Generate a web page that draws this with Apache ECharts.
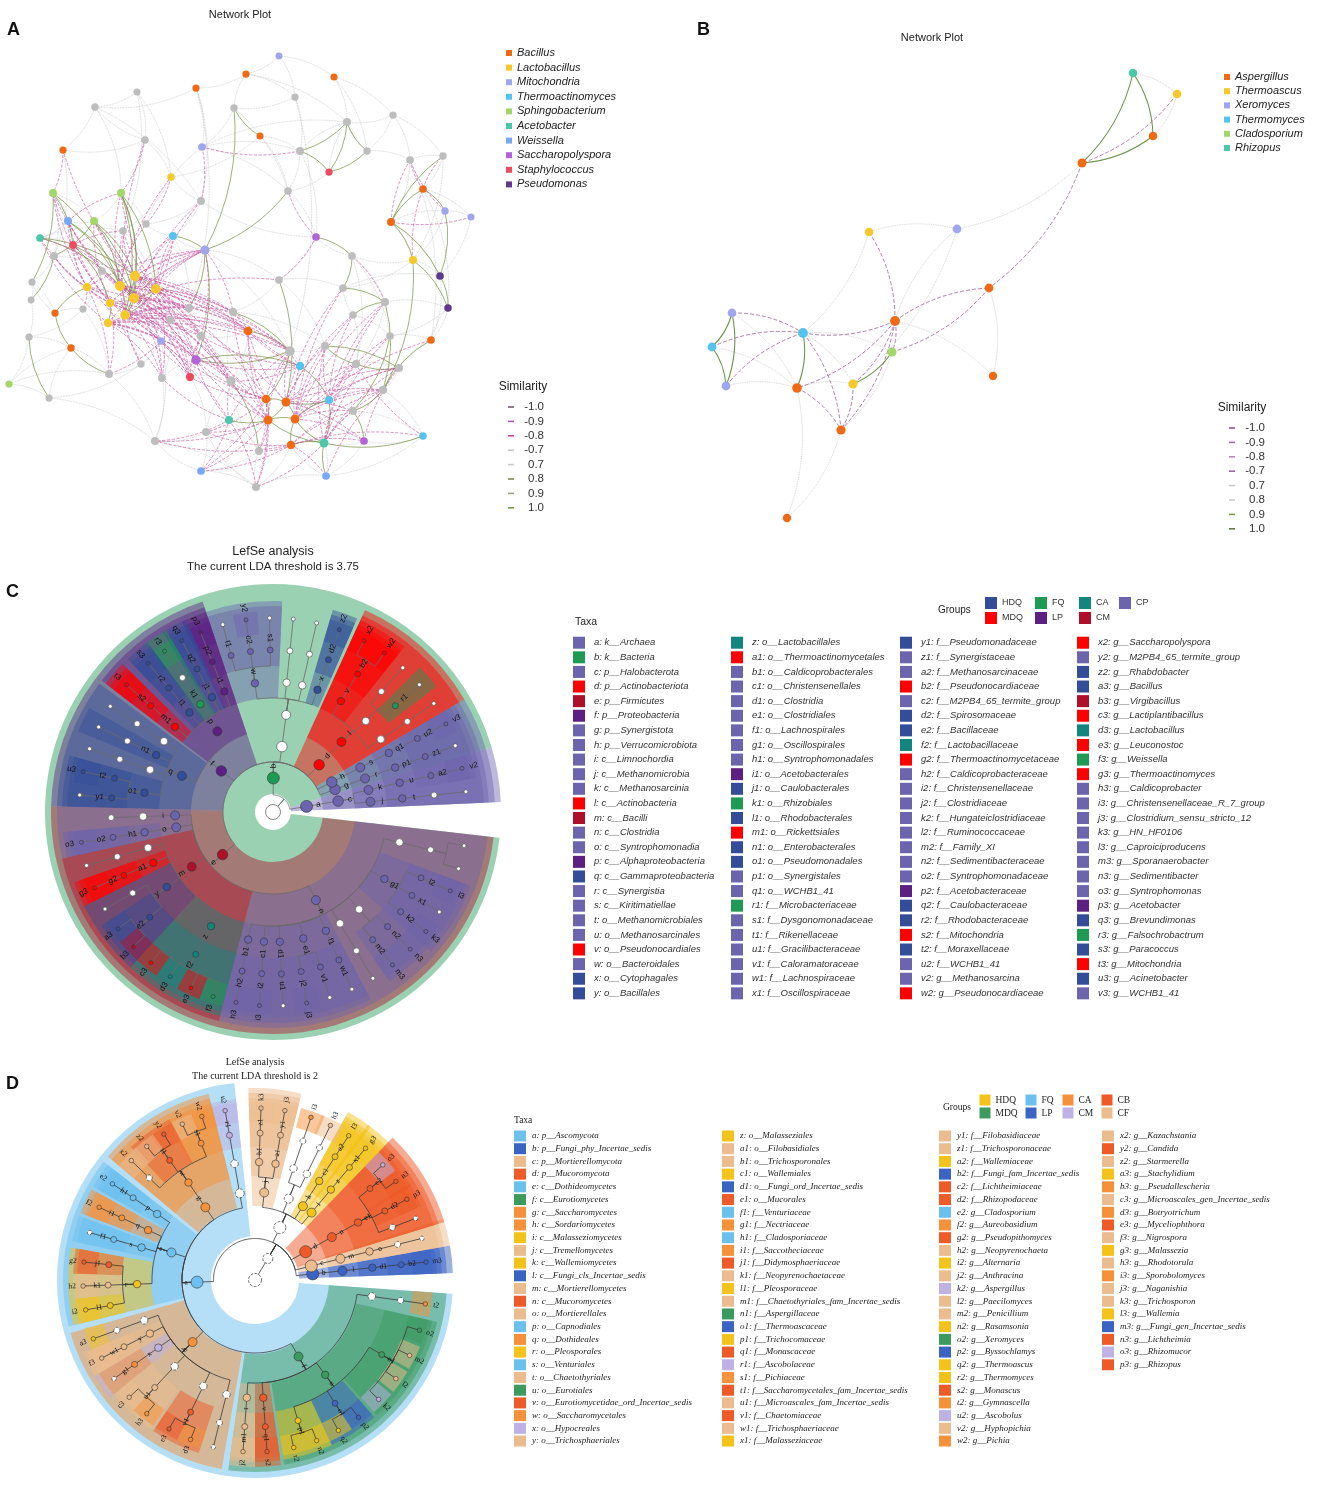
<!DOCTYPE html>
<html>
<head>
<meta charset="utf-8">
<title>Network plots and LEfSe cladograms</title>
<script src="https://cdn.jsdelivr.net/npm/echarts/dist/echarts.min.js"></script>
<style>
  html, body { margin: 0; padding: 0; background: #fff; }
  #chart { width: 1325px; height: 1497px; }
</style>
</head>
<body>
<div id="chart"></div>
<script>
// ---------- Panel A: bacterial network ----------
const aGenera = ['Bacillus', 'Lactobacillus', 'Mitochondria', 'Thermoactinomyces', 'Sphingobacterium',
  'Acetobacter', 'Weissella', 'Saccharopolyspora', 'Staphylococcus', 'Pseudomonas'];
// x, y (layout), genus index (10 = other)
const aNodes = [
  [246, 74, 0], [196, 88, 0], [334, 77, 0], [260, 136, 0], [63, 150, 0], [423, 189, 0], [391, 222, 0],
  [55, 313, 0], [71, 348, 0], [248, 331, 0], [431, 340, 0], [266, 399, 0], [286, 402, 0], [268, 420, 0],
  [295, 419, 0], [291, 445, 0],
  [171, 177, 1], [413, 260, 1], [135, 276, 1], [120, 286, 1], [87, 287, 1], [134, 298, 1], [156, 289, 1],
  [110, 303, 1], [125, 315, 1], [108, 323, 1],
  [279, 56, 2], [202, 147, 2], [205, 250, 2], [445, 211, 2], [471, 217, 2], [161, 341, 2],
  [173, 236, 3], [300, 366, 3], [329, 400, 3], [423, 436, 3],
  [53, 193, 4], [121, 193, 4], [94, 221, 4], [9, 384, 4],
  [40, 238, 5], [229, 420, 5], [324, 443, 5],
  [68, 221, 6], [201, 471, 6], [326, 476, 6],
  [316, 237, 7], [196, 360, 7], [364, 441, 7],
  [329, 172, 8], [73, 245, 8], [190, 377, 8],
  [440, 276, 9], [448, 308, 9],
  [137, 92, 10], [95, 107, 10], [295, 97, 10], [234, 108, 10], [393, 115, 10], [347, 122, 10], [145, 140, 10],
  [300, 151, 10], [367, 151, 10], [410, 160, 10], [443, 156, 10], [288, 191, 10], [201, 201, 10], [123, 231, 10],
  [146, 224, 10], [54, 256, 10], [352, 256, 10], [102, 271, 10], [32, 282, 10], [279, 280, 10], [343, 288, 10],
  [31, 300, 10], [83, 309, 10], [385, 302, 10], [189, 308, 10], [233, 312, 10], [353, 315, 10], [170, 320, 10],
  [29, 337, 10], [201, 336, 10], [390, 336, 10], [325, 346, 10], [290, 351, 10], [141, 364, 10], [356, 364, 10],
  [109, 374, 10], [399, 368, 10], [162, 378, 10], [231, 381, 10], [383, 390, 10], [353, 411, 10], [49, 398, 10],
  [206, 432, 10], [155, 441, 10], [259, 451, 10], [256, 487, 10]
];
const aPosLinks = [[59, 61], [59, 49], [61, 49], [62, 49], [62, 59], [6, 64], [6, 5], [29, 52], [5, 29], [3, 57],
  [57, 28], [28, 78], [36, 50], [38, 69], [38, 19], [38, 21], [36, 72], [37, 18], [21, 18], [19, 24], [22, 24],
  [18, 22], [23, 25], [69, 75], [7, 20], [8, 7], [95, 82], [89, 8], [70, 74], [74, 77], [77, 93], [93, 10],
  [88, 85], [85, 90], [86, 11], [12, 14], [11, 13], [13, 41], [14, 34], [15, 42], [34, 42], [33, 34], [84, 94],
  [80, 77], [79, 86], [17, 93], [6, 17], [52, 53], [94, 48], [47, 33], [9, 86], [92, 98], [73, 12], [65, 28],
  [37, 21], [43, 21], [40, 19], [50, 23], [18, 24], [21, 24], [22, 21], [19, 21], [38, 18], [43, 19], [37, 22],
  [50, 21], [40, 18], [11, 12], [13, 14], [12, 13], [15, 14], [42, 14], [42, 13], [34, 12], [45, 42], [35, 42],
  [28, 47], [32, 28], [46, 70], [90, 88], [93, 94], [6, 52], [17, 53], [36, 19], [37, 24], [86, 47]];
const aNegLinks = [[18, 28], [18, 83], [18, 78], [18, 47], [19, 79], [19, 9], [19, 51], [20, 71], [20, 76],
  [21, 28], [21, 47], [21, 91], [22, 28], [22, 79], [22, 86], [23, 81], [23, 89], [24, 47], [24, 83], [24, 51],
  [25, 81], [25, 91], [25, 31], [19, 43], [20, 50], [21, 36], [18, 4], [23, 40], [24, 67], [22, 66], [19, 16],
  [18, 32], [21, 78], [25, 92], [24, 9], [20, 69], [23, 43], [22, 92], [18, 86], [19, 47], [21, 73], [24, 79],
  [22, 9], [11, 92], [11, 47], [11, 44], [12, 85], [12, 88], [12, 90], [13, 96], [13, 92], [13, 44], [14, 93],
  [14, 80], [14, 88], [15, 96], [15, 98], [15, 44], [41, 47], [41, 86], [42, 90], [42, 88], [34, 77], [34, 90],
  [33, 79], [33, 9], [11, 51], [12, 74], [13, 86], [14, 10], [15, 48], [42, 93], [41, 97], [11, 31], [12, 9],
  [34, 84], [33, 47], [13, 83], [14, 94], [45, 93], [48, 90], [35, 88], [6, 63], [5, 64], [5, 63], [29, 63],
  [30, 6], [17, 5], [46, 65], [27, 66], [4, 36], [60, 37], [50, 67], [40, 71], [43, 37], [16, 68], [32, 22],
  [28, 83], [28, 79], [47, 83], [51, 83], [31, 89], [87, 24],
  [18, 91], [19, 81], [20, 87], [21, 83], [22, 83], [23, 78], [24, 86], [25, 47], [19, 92], [20, 31], [23, 92],
  [24, 91], [25, 9], [18, 79], [21, 9], [22, 47], [23, 51], [20, 89], [19, 71], [21, 86], [22, 51], [25, 83],
  [18, 92], [24, 78], [20, 81], [21, 92], [18, 38], [19, 37], [20, 36], [22, 37], [23, 38], [24, 50], [25, 40],
  [18, 50], [19, 68], [21, 66], [22, 67], [24, 60], [23, 36], [21, 43], [18, 9], [19, 83], [22, 78], [25, 86],
  [24, 92], [20, 43], [18, 67], [21, 71], [22, 32], [23, 69], [19, 86], [25, 78], [24, 28], [19, 28], [20, 28],
  [23, 28], [25, 28], [21, 32], [23, 47], [20, 47], [22, 91], [18, 81], [19, 31], [18, 51], [21, 51],
  [11, 86], [12, 86], [13, 79], [14, 85], [15, 94], [41, 92], [42, 85], [34, 85], [33, 86], [11, 96], [12, 93],
  [13, 98], [14, 90], [15, 97], [41, 44], [42, 94], [11, 83], [12, 80], [13, 47], [14, 77], [15, 45], [41, 91],
  [42, 77], [34, 88], [33, 92], [11, 98], [12, 94], [13, 97], [14, 74], [15, 35], [42, 84], [34, 80], [33, 83],
  [11, 9], [13, 9], [14, 33], [15, 93], [41, 99], [42, 99], [34, 93], [12, 48], [14, 48], [11, 99], [13, 99],
  [18, 11], [21, 13], [24, 41], [19, 12], [25, 51], [46, 73], [70, 77], [61, 27]];
const aWeakLinks = [[26, 2], [0, 1], [0, 59], [1, 27], [1, 78], [54, 67], [55, 4], [55, 66], [60, 4], [60, 16],
  [56, 61], [56, 86], [57, 65], [57, 27], [58, 62], [58, 63], [2, 58], [3, 65], [3, 16], [27, 61], [27, 59],
  [61, 65], [61, 46], [62, 59], [63, 64], [63, 6], [64, 5], [5, 30], [6, 17], [6, 52], [29, 30], [65, 46],
  [66, 16], [66, 68], [16, 67], [4, 69], [36, 69], [69, 72], [72, 75], [75, 82], [82, 39], [39, 95], [95, 8],
  [8, 89], [89, 97], [97, 99], [99, 98], [98, 44], [96, 44], [96, 97], [87, 95], [70, 46], [70, 77], [70, 88],
  [46, 73], [73, 79], [73, 85], [74, 52], [77, 53], [80, 84], [84, 10], [10, 53], [88, 90], [90, 93], [93, 94],
  [94, 35], [35, 48], [48, 42], [42, 45], [45, 15], [15, 99], [41, 96], [41, 98], [92, 86], [92, 79], [79, 9],
  [9, 83], [83, 78], [28, 32], [28, 86], [17, 52], [17, 70], [6, 29], [49, 59], [5, 53], [63, 10], [84, 88],
  [85, 33], [33, 12], [86, 33], [78, 81], [81, 91], [91, 47], [47, 51], [51, 92], [31, 87], [31, 47], [7, 76],
  [7, 72], [76, 89], [20, 69], [71, 19], [38, 43], [43, 40], [40, 50], [50, 69], [36, 38], [37, 68], [37, 38],
  [67, 22], [32, 68], [32, 21], [26, 0], [2, 62], [54, 60], [44, 99], [39, 89],
  [54, 55], [54, 16], [56, 57], [58, 59], [62, 63], [64, 17], [0, 56], [1, 66], [27, 65], [28, 73], [70, 84],
  [77, 88], [80, 88], [85, 86], [73, 74], [79, 85], [9, 92], [83, 92], [81, 87], [87, 89], [91, 97], [96, 92],
  [98, 92], [99, 45], [44, 97], [93, 35], [90, 10], [52, 10], [53, 84], [17, 74], [46, 66], [49, 65], [3, 61],
  [60, 55], [55, 37], [69, 71], [71, 76], [76, 82], [72, 7], [82, 8], [95, 97], [39, 8], [36, 43], [40, 67],
  [68, 27], [66, 32], [32, 78], [78, 9], [31, 97], [51, 96], [47, 92], [2, 59], [26, 56], [58, 64], [29, 17],
  [30, 52], [53, 10], [35, 45], [48, 45], [99, 96], [98, 15], [94, 88], [80, 74], [61, 59], [57, 0], [1, 55]];

// ---------- Panel B: fungal network ----------
const bGenera = ['Aspergillus', 'Thermoascus', 'Xeromyces', 'Thermomyces', 'Cladosporium', 'Rhizopus'];
const bNodes = [
  [1133, 73, 5], [1177, 94, 1], [1153, 136, 0], [1082, 163, 0], [869, 232, 1], [957, 229, 2], [989, 288, 0],
  [732, 313, 2], [803, 333, 3], [895, 321, 0], [712, 347, 3], [892, 352, 4], [993, 376, 0], [726, 386, 2],
  [797, 388, 0], [853, 384, 1], [841, 430, 0], [787, 518, 0]
];
const bPosLinks = [[0, 3], [0, 2], [2, 3], [7, 10], [7, 13], [10, 13], [8, 14], [11, 15]];
const bNegLinks = [[1, 3], [4, 9], [9, 6], [9, 8], [9, 11], [9, 14], [9, 15], [9, 16], [7, 8], [10, 8], [13, 8],
  [15, 16], [14, 16], [8, 16], [6, 11], [3, 6]];
const bWeakLinks = [[0, 1], [1, 2], [3, 5], [4, 5], [4, 8], [5, 15], [6, 12], [9, 12], [7, 14], [10, 14],
  [13, 14], [8, 15], [8, 11], [14, 15], [14, 17], [16, 17], [11, 16], [9, 5]];

const similarityLabels = ['-1.0', '-0.9', '-0.8', '-0.7', '0.7', '0.8', '0.9', '1.0'];

// ---------- Panel C: bacterial LEfSe ----------
const cGroups = ['HDQ', 'MDQ', 'FQ', 'LP', 'CA', 'CM', 'CP'];
// id, taxon, group index
const cTaxa = [
  ['a', 'k__Archaea', 6], ['b', 'k__Bacteria', 2], ['c', 'p__Halobacterota', 6], ['d', 'p__Actinobacteriota', 1],
  ['e', 'p__Firmicutes', 5], ['f', 'p__Proteobacteria', 3], ['g', 'p__Synergistota', 6], ['h', 'p__Verrucomicrobiota', 6],
  ['i', 'c__Limnochordia', 6], ['j', 'c__Methanomicrobia', 6], ['k', 'c__Methanosarcinia', 6], ['l', 'c__Actinobacteria', 1],
  ['m', 'c__Bacilli', 5], ['n', 'c__Clostridia', 6], ['o', 'c__Syntrophomonadia', 6], ['p', 'c__Alphaproteobacteria', 3],
  ['q', 'c__Gammaproteobacteria', 0], ['r', 'c__Synergistia', 6], ['s', 'c__Kiritimatiellae', 6],
  ['t', 'o__Methanomicrobiales', 6], ['u', 'o__Methanosarcinales', 6], ['v', 'o__Pseudonocardiales', 1],
  ['w', 'o__Bacteroidales', 6], ['x', 'o__Cytophagales', 0], ['y', 'o__Bacillales', 0],
  ['z', 'o__Lactobacillales', 4], ['a1', 'o__Thermoactinomycetales', 1], ['b1', 'o__Caldicoprobacterales', 6],
  ['c1', 'o__Christensenellales', 6], ['d1', 'o__Clostridia', 6], ['e1', 'o__Clostridiales', 6],
  ['f1', 'o__Lachnospirales', 6], ['g1', 'o__Oscillospirales', 6], ['h1', 'o__Syntrophomonadales', 6],
  ['i1', 'o__Acetobacterales', 3], ['j1', 'o__Caulobacterales', 0], ['k1', 'o__Rhizobiales', 2],
  ['l1', 'o__Rhodobacterales', 0], ['m1', 'o__Rickettsiales', 1], ['n1', 'o__Enterobacterales', 0],
  ['o1', 'o__Pseudomonadales', 0], ['p1', 'o__Synergistales', 6], ['q1', 'o__WCHB1_41', 6],
  ['r1', 'f__Microbacteriaceae', 2], ['s1', 'f__Dysgonomonadaceae', 6], ['t1', 'f__Rikenellaceae', 6],
  ['u1', 'f__Gracilibacteraceae', 6], ['v1', 'f__Caloramatoraceae', 6], ['w1', 'f__Lachnospiraceae', 6],
  ['x1', 'f__Oscillospiraceae', 6],
  ['y1', 'f__Pseudomonadaceae', 0], ['z1', 'f__Synergistaceae', 6], ['a2', 'f__Methanosarcinaceae', 6],
  ['b2', 'f__Pseudonocardiaceae', 1], ['c2', 'f__M2PB4_65_termite_group', 6], ['d2', 'f__Spirosomaceae', 0],
  ['e2', 'f__Bacillaceae', 0], ['f2', 'f__Lactobacillaceae', 4], ['g2', 'f__Thermoactinomycetaceae', 1],
  ['h2', 'f__Caldicoprobacteraceae', 6], ['i2', 'f__Christensenellaceae', 6], ['j2', 'f__Clostridiaceae', 6],
  ['k2', 'f__Hungateiclostridiaceae', 6], ['l2', 'f__Ruminococcaceae', 6], ['m2', 'f__Family_XI', 6],
  ['n2', 'f__Sedimentibacteraceae', 6], ['o2', 'f__Syntrophomonadaceae', 6], ['p2', 'f__Acetobacteraceae', 3],
  ['q2', 'f__Caulobacteraceae', 0], ['r2', 'f__Rhodobacteraceae', 0], ['s2', 'f__Mitochondria', 1],
  ['t2', 'f__Moraxellaceae', 0], ['u2', 'f__WCHB1_41', 6], ['v2', 'g__Methanosarcina', 6],
  ['w2', 'g__Pseudonocardiaceae', 1],
  ['x2', 'g__Saccharopolyspora', 1], ['y2', 'g__M2PB4_65_termite_group', 6], ['z2', 'g__Rhabdobacter', 0],
  ['a3', 'g__Bacillus', 0], ['b3', 'g__Virgibacillus', 5], ['c3', 'g__Lactiplantibacillus', 1],
  ['d3', 'g__Lactobacillus', 4], ['e3', 'g__Leuconostoc', 1], ['f3', 'g__Weissella', 2],
  ['g3', 'g__Thermoactinomyces', 1], ['h3', 'g__Caldicoprobacter', 6], ['i3', 'g__Christensenellaceae_R_7_group', 6],
  ['j3', 'g__Clostridium_sensu_stricto_12', 6], ['k3', 'g__HN_HF0106', 6], ['l3', 'g__Caproiciproducens', 6],
  ['m3', 'g__Sporanaerobacter', 6], ['n3', 'g__Sedimentibacter', 6], ['o3', 'g__Syntrophomonas', 6],
  ['p3', 'g__Acetobacter', 3], ['q3', 'g__Brevundimonas', 0], ['r3', 'g__Falsochrobactrum', 2],
  ['s3', 'g__Paracoccus', 0], ['t3', 'g__Mitochondria', 1], ['u3', 'g__Acinetobacter', 0], ['v3', 'g__WCHB1_41', 6]
];
// id, parent, leaf angle (degrees, counter-clockwise from 3 o'clock); ids with "_" are non-significant taxa
const cTree = [
  ['root', null],
  ['a', 'root'], ['c', 'a'], ['j', 'c'], ['t', 'j'], ['_1', 't'], ['_2', '_1', 6],
  ['k', 'c'], ['u', 'k'], ['a2', 'u'], ['v2', 'a2', 13],
  ['b', 'root'],
  ['g', 'b'], ['r', 'g'], ['p1', 'r'], ['z1', 'p1'], ['_3', 'z1', 20],
  ['h', 'b'], ['s', 'h'], ['q1', 's'], ['u2', 'q1'], ['v3', 'u2', 27],
  ['d', 'b'], ['l', 'd'],
  ['_4', 'l'], ['_5', '_4'], ['_6', '_5', 34],
  ['_7', 'l'], ['r1', '_7'], ['_8', 'r1', 41], ['_9', '_7'], ['_10', '_9', 48],
  ['v', 'l'], ['b2', 'v'], ['w2', 'b2', 55], ['x2', 'b2', 62],
  ['_11', 'b'], ['_12', '_11'],
  ['x', '_12'], ['d2', 'x'], ['z2', 'd2', 70],
  ['_13', '_12'], ['_14', '_13'], ['_15', '_14', 77],
  ['_16', '_12'], ['_17', '_16'], ['_18', '_17', 84],
  ['w', '_12'], ['s1', 'w'], ['_19', 's1', 91], ['c2', 'w'], ['y2', 'c2', 98], ['t1', 'w'], ['_20', 't1', 105],
  ['f', 'b'], ['p', 'f'],
  ['i1', 'p'], ['p2', 'i1'], ['p3', 'p2', 112],
  ['j1', 'p'], ['q2', 'j1'], ['q3', 'q2', 118],
  ['k1', 'p'], ['_21', 'k1'], ['r3', '_21', 124],
  ['l1', 'p'], ['r2', 'l1'], ['s3', 'r2', 130],
  ['m1', 'p'], ['s2', 'm1'], ['t3', 's2', 139],
  ['q', 'f'],
  ['_22', 'q'], ['_23', '_22'], ['_24', '_23', 147],
  ['n1', 'q'], ['_25', 'n1'], ['_26', '_25', 154],
  ['_27', 'q'], ['_28', '_27'], ['_29', '_28', 161],
  ['o1', 'q'], ['t2', 'o1'], ['u3', 't2', 168], ['y1', 'o1'], ['_30', 'y1', 175],
  ['e', 'b'],
  ['i', 'e'], ['_31', 'i'], ['_32', '_31', 182],
  ['o', 'e'], ['h1', 'o'], ['o2', 'h1'], ['o3', 'o2', 189],
  ['m', 'e'],
  ['_33', 'm'], ['_34', '_33'], ['_35', '_34', 196],
  ['a1', 'm'], ['g2', 'a1'], ['g3', 'g2', 203],
  ['y', 'm'], ['_36', 'y'], ['_37', '_36', 210], ['e2', 'y'], ['a3', 'e2', 217], ['b3', 'e2', 224],
  ['z', 'm'], ['f2', 'z'], ['c3', 'f2', 231], ['d3', 'f2', 238], ['e3', 'f2', 245], ['f3', 'f2', 252],
  ['n', 'e'],
  ['b1', 'n'], ['h2', 'b1'], ['h3', 'h2', 259],
  ['c1', 'n'], ['i2', 'c1'], ['i3', 'i2', 266],
  ['d1', 'n'], ['u1', 'd1'], ['_38', 'u1', 273],
  ['e1', 'n'], ['j2', 'e1'], ['j3', 'j2', 280], ['v1', 'e1'], ['_39', 'v1', 287],
  ['f1', 'n'], ['w1', 'f1'], ['_40', 'w1', 294],
  ['_41', 'n'], ['_42', '_41'], ['_43', '_42', 301],
  ['_44', 'n'], ['m2', '_44'], ['m3', 'm2', 308], ['n2', '_44'], ['n3', 'n2', 315],
  ['g1', 'n'], ['k2', 'g1'], ['k3', 'k2', 322], ['x1', 'g1'], ['_45', 'x1', 329], ['l2', 'g1'], ['l3', 'l2', 336],
  ['_46', 'n'], ['_47', '_46'], ['_48', '_47', 343], ['_49', '_47', 350]
];

// ---------- Panel D: fungal LEfSe ----------
const dGroups = ['HDQ', 'MDQ', 'FQ', 'LP', 'CA', 'CM', 'CB', 'CF'];
const dTaxa = [
  ['a', 'p__Ascomycota', 2], ['b', 'p__Fungi_phy_Incertae_sedis', 3], ['c', 'p__Mortierellomycota', 7],
  ['d', 'p__Mucoromycota', 6], ['e', 'c__Dothideomycetes', 2], ['f', 'c__Eurotiomycetes', 1],
  ['g', 'c__Saccharomycetes', 4], ['h', 'c__Sordariomycetes', 4], ['i', 'c__Malasseziomycetes', 0],
  ['j', 'c__Tremellomycetes', 7], ['k', 'c__Wallemiomycetes', 0], ['l', 'c__Fungi_cls_Incertae_sedis', 3],
  ['m', 'c__Mortierellomycetes', 7], ['n', 'c__Mucoromycetes', 6], ['o', 'o__Mortierellales', 7],
  ['p', 'o__Capnodiales', 2], ['q', 'o__Dothideales', 4], ['r', 'o__Pleosporales', 0], ['s', 'o__Venturiales', 2],
  ['t', 'o__Chaetothyriales', 7], ['u', 'o__Eurotiales', 1], ['v', 'o__Eurotiomycetidae_ord_Incertae_sedis', 6],
  ['w', 'o__Saccharomycetales', 4], ['x', 'o__Hypocreales', 5], ['y', 'o__Trichosphaeriales', 7],
  ['z', 'o__Malasseziales', 0], ['a1', 'o__Filobasidiales', 7], ['b1', 'o__Trichosporonales', 7],
  ['c1', 'o__Wallemiales', 0], ['d1', 'o__Fungi_ord_Incertae_sedis', 3], ['e1', 'o__Mucorales', 6],
  ['f1', 'f__Venturiaceae', 2], ['g1', 'f__Nectriaceae', 4], ['h1', 'f__Cladosporiaceae', 2],
  ['i1', 'f__Saccotheciaceae', 4], ['j1', 'f__Didymosphaeriaceae', 6], ['k1', 'f__Neopyrenochaetaceae', 7],
  ['l1', 'f__Pleosporaceae', 0], ['m1', 'f__Chaetothyriales_fam_Incertae_sedis', 7], ['n1', 'f__Aspergillaceae', 1],
  ['o1', 'f__Thermoascaceae', 3], ['p1', 'f__Trichocomaceae', 0], ['q1', 'f__Monascaceae', 6],
  ['r1', 'f__Ascobolaceae', 5], ['s1', 'f__Pichiaceae', 4], ['t1', 'f__Saccharomycetales_fam_Incertae_sedis', 6],
  ['u1', 'f__Microascales_fam_Incertae_sedis', 7], ['v1', 'f__Chaetomiaceae', 6], ['w1', 'f__Trichosphaeriaceae', 7],
  ['x1', 'f__Malasseziaceae', 0],
  ['y1', 'f__Filobasidiaceae', 7], ['z1', 'f__Trichosporonaceae', 7], ['a2', 'f__Wallemiaceae', 0],
  ['b2', 'f__Fungi_fam_Incertae_sedis', 3], ['c2', 'f__Lichtheimiaceae', 6], ['d2', 'f__Rhizopodaceae', 6],
  ['e2', 'g__Cladosporium', 2], ['f2', 'g__Aureobasidium', 4], ['g2', 'g__Pseudopithomyces', 6],
  ['h2', 'g__Neopyrenochaeta', 7], ['i2', 'g__Alternaria', 0], ['j2', 'g__Anthracina', 7], ['k2', 'g__Aspergillus', 5],
  ['l2', 'g__Paecilomyces', 7], ['m2', 'g__Penicillium', 7], ['n2', 'g__Rasamsonia', 0], ['o2', 'g__Xeromyces', 1],
  ['p2', 'g__Byssochlamys', 3], ['q2', 'g__Thermoascus', 0], ['r2', 'g__Thermomyces', 0], ['s2', 'g__Monascus', 6],
  ['t2', 'g__Gymnascella', 4], ['u2', 'g__Ascobolus', 5], ['v2', 'g__Hyphopichia', 7], ['w2', 'g__Pichia', 4],
  ['x2', 'g__Kazachstania', 7], ['y2', 'g__Candida', 6], ['z2', 'g__Starmerella', 7], ['a3', 'g__Stachylidium', 0],
  ['b3', 'g__Pseudallescheria', 4], ['c3', 'g__Microascales_gen_Incertae_sedis', 7], ['d3', 'g__Botryotrichum', 4],
  ['e3', 'g__Myceliophthora', 6], ['f3', 'g__Nigrospora', 7], ['g3', 'g__Malassezia', 0], ['h3', 'g__Rhodotorula', 7],
  ['i3', 'g__Sporobolomyces', 4], ['j3', 'g__Naganishia', 7], ['k3', 'g__Trichosporon', 7], ['l3', 'g__Wallemia', 0],
  ['m3', 'g__Fungi_gen_Incertae_sedis', 3], ['n3', 'g__Lichtheimia', 6], ['o3', 'g__Rhizomucor', 5],
  ['p3', 'g__Rhizopus', 6]
];
const dTree = [
  ['root', null], ['_k', 'root'],
  ['b', '_k'], ['l', 'b'], ['d1', 'l'], ['b2', 'd1'], ['m3', 'b2', 6],
  ['c', '_k'], ['m', 'c'], ['o', 'm'], ['_1', 'o'], ['_2', '_1', 14],
  ['d', '_k'], ['n', 'd'], ['e1', 'n'], ['_3', 'e1'], ['_4', '_3', 21], ['d2', 'e1'], ['p3', 'd2', 28],
  ['c2', 'e1'], ['n3', 'c2', 35], ['o3', 'c2', 42],
  ['_5', '_k'],
  ['i', '_5'], ['z', 'i'], ['x1', 'z'], ['g3', 'x1', 50],
  ['k', '_5'], ['c1', 'k'], ['a2', 'c1'], ['l3', 'a2', 57],
  ['_6', '_5'], ['_7', '_6'], ['_8', '_7'], ['h3', '_8', 64], ['_9', '_6'], ['_10', '_9'], ['i3', '_10', 71],
  ['j', '_5'], ['a1', 'j'], ['y1', 'a1'], ['j3', 'y1', 80], ['b1', 'j'], ['z1', 'b1'], ['k3', 'z1', 88],
  ['a', '_k'],
  ['_11', 'a'], ['_12', '_11'], ['r1', '_12'], ['u2', 'r1', 100],
  ['g', 'a'], ['w', 'g'], ['s1', 'w'], ['w2', 's1', 108], ['v2', 's1', 115], ['t1', 'w'], ['y2', 't1', 122],
  ['z2', 't1', 129], ['_13', 'w'], ['x2', '_13', 136],
  ['e', 'a'], ['p', 'e'], ['h1', 'p'], ['e2', 'h1', 146], ['q', 'e'], ['i1', 'q'], ['f2', 'i1', 155],
  ['s', 'e'], ['f1', 's'], ['_14', 'f1', 164],
  ['r', 'e'], ['j1', 'r'], ['g2', 'j1', 174], ['k1', 'r'], ['h2', 'k1', 182], ['l1', 'r'], ['i2', 'l1', 190],
  ['h', 'a'], ['_15', 'h'], ['_16', '_15'], ['a3', '_16', 200], ['y', 'h'], ['w1', 'y'], ['f3', 'w1', 207],
  ['x', 'h'], ['g1', 'x'], ['_17', 'g1', 215],
  ['_18', 'h'], ['u1', '_18'], ['c3', 'u1', 223], ['b3', 'u1', 231],
  ['_19', 'h'], ['v1', '_19'], ['e3', 'v1', 240], ['d3', 'v1', 248],
  ['_20', 'h'], ['_21', '_20'], ['_22', '_21', 256],
  ['f', 'a'], ['t', 'f'], ['m1', 't'], ['j2', 'm1', 266], ['v', 'f'], ['q1', 'v'], ['s2', 'q1', 274],
  ['u', 'f'], ['p1', 'u'], ['r2', 'p1', 283], ['n2', 'p1', 291], ['o1', 'u'], ['q2', 'o1', 299], ['p2', 'o1', 307],
  ['n1', 'u'], ['k2', 'n1', 316], ['l2', 'n1', 325], ['m2', 'n1', 334], ['o2', 'n1', 343],
  ['_23', 'f'], ['_24', '_23'], ['t2', '_24', 352]
];

// ---------- styles ----------
const SANS = 'Liberation Sans';
const SERIF = 'Liberation Serif';
const A_COLORS = ['#F06A15', '#F7C82A', '#A0A6EE', '#55C3F0', '#A2D86A', '#4CC8A8', '#78A8F5', '#B462D8', '#EE4B5E', '#5E3A8E'];
const B_COLORS = ['#F06A15', '#F7C82A', '#A0A6EE', '#55C3F0', '#A2D86A', '#4CC8A8'];
const SIM_A_COLORS = ['#6E5A6E', '#A062A0', '#C8489C', '#C8C8C8', '#CCCCCC', '#7F8C60', '#9AA080', '#7C9A4A'];
const SIM_B_COLORS = ['#8A5A8A', '#A070A0', '#B090B0', '#9A6A9A', '#C8C8C8', '#C8C8C8', '#7A9A5A', '#607A40'];
const C_COLORS = ['#344D99', '#FF0000', '#1F9A55', '#5E1F82', '#13857F', '#B00F2A', '#6C64AD'];
const D_COLORS = ['#F3C31C', '#3C9A5F', '#6CC0EE', '#3B63C4', '#F5913A', '#BDB2E3', '#EE5A28', '#EBBC8E'];

const grids = [], xAxes = [], yAxes = [], series = [];

function addGrid(left, top, width, height, xr, yr) {
  const idx = grids.length;
  grids.push({ left, top, width, height, containLabel: false, outerBoundsMode: 'none' });
  xAxes.push({ type: 'value', gridIndex: idx, min: xr[0], max: xr[1], show: false });
  yAxes.push({ type: 'value', gridIndex: idx, min: yr[0], max: yr[1], inverse: true, show: false });
  return idx;
}

function addNetwork(gridIdx, nodes, genera, colors, pos, neg, weak, st) {
  const degree = nodes.map(() => 0);
  [...pos, ...neg, ...weak].forEach(([s, t]) => { degree[s]++; degree[t]++; });
  const links = [];
  weak.forEach(([s, t]) => links.push({ source: s, target: t, lineStyle: st.weak }));
  pos.forEach(([s, t]) => links.push({ source: s, target: t, lineStyle: st.pos }));
  neg.forEach(([s, t]) => links.push({ source: s, target: t, lineStyle: st.neg }));
  series.push({
    type: 'graph', coordinateSystem: 'cartesian2d', xAxisIndex: gridIdx, yAxisIndex: gridIdx,
    silent: true, z: 2, emphasis: { disabled: true },
    categories: genera.map((name, i) => ({ name, itemStyle: { color: colors[i] } }))
      .concat([{ name: 'Other', itemStyle: { color: '#BDBDBD' } }]),
    data: nodes.map(([x, y, g], i) => ({
      value: [x, y], category: g,
      symbolSize: st.base + Math.min(st.maxExtra, degree[i] * st.perLink)
    })),
    links,
    itemStyle: { borderWidth: 0, opacity: 1 }
  });
}

function addLegendColumn(left, top, rowH, slots, entries, symbolSize, label) {
  const idx = addGrid(left, top, 1, rowH * (slots - 1), [0, 1], [0, slots - 1]);
  series.push({
    type: 'scatter', xAxisIndex: idx, yAxisIndex: idx, silent: true, symbol: 'rect', symbolSize, z: 5,
    data: entries.map((e, row) => ({ value: [0, row], name: e.text, itemStyle: { color: e.color, opacity: 1 } })),
    label: Object.assign({ show: true, formatter: '{b}' }, label)
  });
}

function addCladogram(cfg) {
  const groupOf = {};
  cfg.taxa.forEach(t => { groupOf[t[0]] = t[2]; });
  const byId = {};
  const list = cfg.tree.map(([id, parent, leaf]) => {
    const n = { id, parent, leaf, kids: [] };
    byId[id] = n;
    if (parent) byId[parent].kids.push(n);
    return n;
  });
  (function walk(n, depth) {
    n.depth = depth;
    if (!n.kids.length) { n.angle = n.lo = n.hi = n.leaf; return; }
    n.kids.forEach(k => walk(k, depth + 1));
    n.angle = n.kids.reduce((s, k) => s + k.angle, 0) / n.kids.length;
    n.lo = Math.min(...n.kids.map(k => k.lo));
    n.hi = Math.max(...n.kids.map(k => k.hi));
  })(byId.root, 0);
  list.forEach(n => {
    n.r = cfg.levelR[n.depth];
    n.group = n.id in groupOf ? groupOf[n.id] : -1;
  });
  const marked = list.filter(n => n.group >= 0);

  // clade shading
  series.push({
    type: 'custom', coordinateSystem: 'polar', polarIndex: cfg.polarIndex, silent: true, z: 1,
    data: marked.map(n => [n.r - cfg.inset, cfg.outerR[n.depth], n.lo - cfg.half, n.hi + cfg.half, n.group]),
    renderItem: (params, api) => {
      const c = api.coord([0, 0]);
      const pIn = api.coord([api.value(0), api.value(2)]);
      const pA = api.coord([api.value(1), api.value(2)]);
      const pB = api.coord([api.value(1), api.value(3)]);
      const r0 = Math.hypot(pIn[0] - c[0], pIn[1] - c[1]);
      const r1 = Math.hypot(pA[0] - c[0], pA[1] - c[1]);
      const s = Math.atan2(pB[1] - c[1], pB[0] - c[0]);
      let e = Math.atan2(pA[1] - c[1], pA[0] - c[0]);
      while (e <= s) e += Math.PI * 2;
      return {
        type: 'sector',
        shape: { cx: c[0], cy: c[1], r0, r: r1, startAngle: s, endAngle: e, clockwise: true },
        style: { fill: cfg.colors[api.value(4)], opacity: cfg.shadeOpacity }
      };
    }
  });

  // branches
  series.push({
    type: 'custom', coordinateSystem: 'polar', polarIndex: cfg.polarIndex, silent: true, z: 2,
    data: list.filter(n => n.parent).map(n => [n.r, n.angle, byId[n.parent].r, byId[n.parent].angle]),
    renderItem: (params, api) => {
      const rc = api.value(0), ac = api.value(1), rp = api.value(2), ap = api.value(3);
      const rm = rp + (rc - rp) * 0.5;
      const pts = [api.coord([rp, ap])];
      const steps = Math.max(2, Math.ceil(Math.abs(ac - ap) / 1.5));
      for (let i = 0; i <= steps; i++) pts.push(api.coord([rm, ap + (ac - ap) * i / steps]));
      pts.push(api.coord([rc, ac]));
      return { type: 'polyline', shape: { points: pts }, style: { stroke: cfg.branchColor, lineWidth: 0.8, fill: null } };
    }
  });

  // nodes
  series.push({
    type: 'scatter', coordinateSystem: 'polar', polarIndex: cfg.polarIndex, silent: true, z: 3,
    data: list.map(n => ({
      value: [n.r, n.angle],
      symbolSize: cfg.sizes[n.depth],
      itemStyle: n.group >= 0
        ? { color: cfg.colors[n.group], borderColor: '#333', borderWidth: 0.6, opacity: 1 }
        : { color: '#fff', borderColor: cfg.whiteBorder, borderWidth: 0.7, opacity: 1,
            borderType: cfg.whiteDash ? 'dashed' : 'solid' }
    }))
  });

  // clade letters
  const labelText = marked.map(n => n.id);
  series.push({
    type: 'custom', coordinateSystem: 'polar', polarIndex: cfg.polarIndex, silent: true, z: 4,
    data: marked.map(n => [n.r + cfg.labelGap, n.angle]),
    renderItem: (params, api) => {
      const c = api.coord([0, 0]);
      const p = api.coord([api.value(0), api.value(1)]);
      const ang = Math.atan2(c[1] - p[1], p[0] - c[0]);
      const rot = Math.cos(ang) >= 0 ? ang : ang - Math.PI;
      return {
        type: 'text', x: p[0], y: p[1], rotation: rot,
        style: { text: labelText[params.dataIndex], fontSize: cfg.labelSize, fontFamily: cfg.font, fill: '#111',
          align: 'center', verticalAlign: 'middle' }
      };
    }
  });
}

// ---------- assemble ----------
const gA = addGrid(0, 0, 480, 520, [0, 480], [0, 520]);
addNetwork(gA, aNodes, aGenera, A_COLORS, aPosLinks, aNegLinks, aWeakLinks, {
  base: 6.5, perLink: 0.15, maxExtra: 5,
  weak: { color: '#BDBDBD', width: 0.8, type: 'dotted', opacity: 0.9, curveness: 0.15 },
  pos: { color: '#6F8A3A', width: 0.9, type: 'solid', opacity: 0.75, curveness: 0.15 },
  neg: { color: '#C44C9A', width: 0.8, type: 'dashed', opacity: 0.75, curveness: 0.12 }
});
const gB = addGrid(680, 0, 520, 540, [680, 1200], [0, 540]);
addNetwork(gB, bNodes, bGenera, B_COLORS, bPosLinks, bNegLinks, bWeakLinks, {
  base: 8, perLink: 0.2, maxExtra: 2,
  weak: { color: '#C4C4C4', width: 0.9, type: 'dotted', opacity: 0.9, curveness: 0.15 },
  pos: { color: '#5E8A3A', width: 1.1, type: 'solid', opacity: 0.9, curveness: 0.15 },
  neg: { color: '#A0609A', width: 1.0, type: 'dashed', opacity: 0.8, curveness: 0.15 }
});

const simLabel = { position: [36, 0.8], align: 'right', verticalAlign: 'middle', fontSize: 11.5, color: '#333', fontFamily: SANS };
addLegendColumn(511, 407, 14.4, 8, similarityLabels.map((t, i) => ({ text: t, color: SIM_A_COLORS[i] })), [6, 1.6], simLabel);
addLegendColumn(1232, 428, 14.4, 8, similarityLabels.map((t, i) => ({ text: t, color: SIM_B_COLORS[i] })), [6, 1.6], simLabel);

addCladogram({
  polarIndex: 0, tree: cTree, taxa: cTaxa, colors: C_COLORS,
  levelR: [0, 34, 66, 98, 130, 162, 194], outerR: [0, 228, 222, 216, 211, 206, 201],
  inset: 16, half: 3.5, sizes: [15, 12, 10.5, 9, 7.5, 6, 4], shadeOpacity: 0.45,
  branchColor: '#6a6a6a', whiteBorder: '#555', whiteDash: false, labelGap: 12, labelSize: 8, font: SANS
});
addCladogram({
  polarIndex: 1, tree: dTree, taxa: dTaxa, colors: D_COLORS,
  levelR: [0, 25, 58, 88, 118, 147, 172], outerR: [0, 198, 198, 192, 187, 182, 178],
  inset: 14, half: 4, sizes: [13, 10, 12, 9, 7.5, 6, 4.5], shadeOpacity: 0.5,
  branchColor: '#3a3a3a', whiteBorder: '#333', whiteDash: true, labelGap: 11, labelSize: 7.5, font: SERIF
});

// taxa and group legends
const cCols = [579, 737, 906, 1083];
cCols.forEach((left, k) => addLegendColumn(left, 642.7, 14.61, 25,
  cTaxa.slice(k * 25, k * 25 + 25).map(t => ({ text: `${t[0]}: ${t[1]}`, color: C_COLORS[t[2]] })),
  [12, 12], { position: 'right', distance: 9, fontStyle: 'italic', fontSize: 9.5, color: '#333', fontFamily: SANS }));
const cGroupCols = [991, 1041, 1085, 1125];
cGroupCols.forEach((left, k) => addLegendColumn(left, 603, 15, 2,
  cGroups.slice(k * 2, k * 2 + 2).map(g => ({ text: g, color: C_COLORS[cGroups.indexOf(g)] })),
  [12, 12], { position: 'right', distance: 5, fontSize: 9, color: '#333', fontFamily: SANS }));

const dCols = [520, 728, 945, 1108];
dCols.forEach((left, k) => addLegendColumn(left, 1136, 12.71, 25,
  dTaxa.slice(k * 25, k * 25 + 25).map(t => ({ text: `${t[0]}: ${t[1]}`, color: D_COLORS[t[2]] })),
  [12, 11], { position: 'right', distance: 6, fontStyle: 'italic', fontSize: 9, color: '#222', fontFamily: SERIF }));
const dGroupCols = [985, 1031, 1068, 1107];
dGroupCols.forEach((left, k) => addLegendColumn(left, 1100, 13, 2,
  dGroups.slice(k * 2, k * 2 + 2).map(g => ({ text: g, color: D_COLORS[dGroups.indexOf(g)] })),
  [11, 11], { position: 'right', distance: 5, fontSize: 9.5, color: '#222', fontFamily: SERIF }));

function title(text, left, top, size, opts) {
  return Object.assign({
    text, left, top, padding: 0,
    textStyle: Object.assign({ fontSize: size, fontWeight: 'normal', color: '#222', fontFamily: SANS }, (opts || {}).style)
  }, (opts || {}).box);
}
const center = { box: { textAlign: 'center' } };
const bold = { style: { fontWeight: 'bold', color: '#111', fontFamily: SANS } };

const option = {
  animation: false,
  backgroundColor: '#fff',
  textStyle: { fontFamily: SANS },
  title: [
    title('Network Plot', 240, 9, 11, center),
    title('A', 7, 21, 18, bold),
    title('Network Plot', 932, 32, 11, center),
    title('B', 697, 21, 18, bold),
    title('Similarity', 523, 381, 12, center),
    title('Similarity', 1242, 402, 12, center),
    title('LefSe analysis', 273, 545, 12.5, center),
    title('The current LDA threshold is 3.75', 273, 561, 11.5, center),
    title('C', 6, 583, 18, bold),
    title('Taxa', 575, 617, 10.5),
    title('Groups', 938, 605, 10),
    title('LefSe analysis', 255, 1057, 10, { box: { textAlign: 'center' }, style: { fontFamily: SERIF } }),
    title('The current LDA threshold is 2', 255, 1071, 10, { box: { textAlign: 'center' }, style: { fontFamily: SERIF } }),
    title('D', 6, 1075, 18, bold),
    title('Taxa', 514, 1115, 9.5, { style: { fontFamily: SERIF } }),
    title('Groups', 943, 1102, 9.5, { style: { fontFamily: SERIF } })
  ],
  legend: [
    { data: aGenera, left: 506, top: 46.7, padding: 0, orient: 'vertical', icon: 'rect', itemWidth: 6, itemHeight: 6,
      itemGap: 2, selectedMode: false,
      textStyle: { fontStyle: 'italic', fontSize: 11, color: '#222', lineHeight: 12.6, fontFamily: SANS } },
    { data: bGenera, left: 1224, top: 70.7, padding: 0, orient: 'vertical', icon: 'rect', itemWidth: 6, itemHeight: 6,
      itemGap: 1.6, selectedMode: false,
      textStyle: { fontStyle: 'italic', fontSize: 11, color: '#222', lineHeight: 12.6, fontFamily: SANS } }
  ],
  grid: grids,
  xAxis: xAxes,
  yAxis: yAxes,
  polar: [{ center: [273, 812], radius: 228 }, { center: [255, 1280], radius: 198 }],
  angleAxis: [
    { polarIndex: 0, type: 'value', min: 0, max: 360, startAngle: 0, clockwise: false, show: false },
    { polarIndex: 1, type: 'value', min: 0, max: 360, startAngle: 0, clockwise: false, show: false }
  ],
  radiusAxis: [
    { polarIndex: 0, type: 'value', min: 0, max: 228, show: false },
    { polarIndex: 1, type: 'value', min: 0, max: 198, show: false }
  ],
  series
};

const chart = echarts.init(document.getElementById('chart'));
chart.setOption(option);
window.addEventListener('resize', () => chart.resize());
</script>
</body>
</html>
